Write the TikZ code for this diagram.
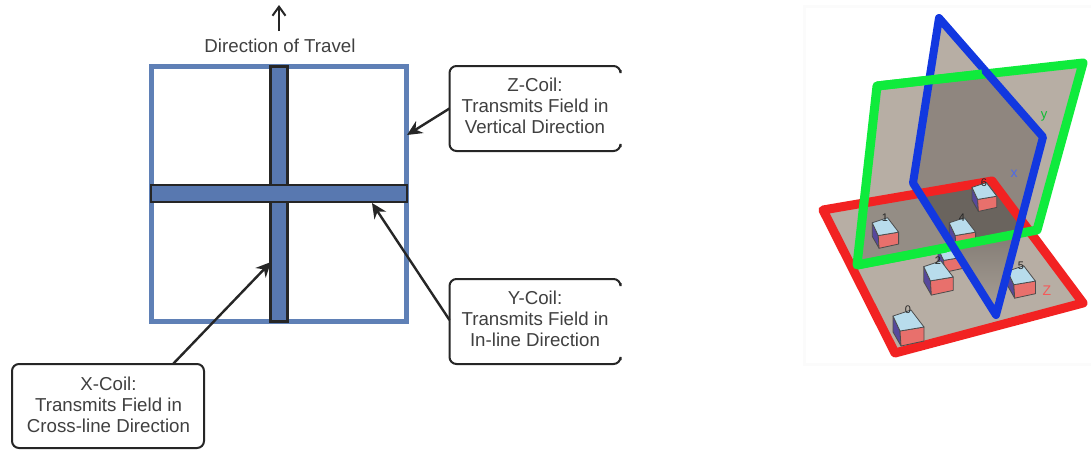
\documentclass[tikz,border=0pt]{standalone}
\usepackage{fontspec}
\setmainfont{Liberation Sans}
\usetikzlibrary{arrows.meta}
\definecolor{framecol}{HTML}{5F80B6}
\definecolor{barcol}{HTML}{5878B0}
\definecolor{inkcol}{HTML}{262626}
\definecolor{textcol}{HTML}{404040}
\definecolor{planelight}{HTML}{B7AEA4}
\definecolor{planemid}{HTML}{8F867F}
\definecolor{planedark}{HTML}{6A645E}
\definecolor{redplane}{HTML}{F22222}
\definecolor{greenplane}{HTML}{0FEB3C}
\definecolor{blueplane}{HTML}{1238E0}
\definecolor{cubetop}{HTML}{B8DCEC}
\definecolor{cubeleft}{HTML}{56489C}
\definecolor{cuberight}{HTML}{E8706C}
\tikzset{
  coiltext/.style={inner sep=0pt,outer sep=0pt,align=center,text=textcol,font=\fontsize{18.7}{21}\selectfont},
  coilbar/.style={draw=inkcol,fill=barcol,line width=2.2pt,inner sep=0pt,outer sep=0pt},
  boxline/.style={draw=inkcol,line width=2pt,rounded corners=7pt},
  coilarrow/.style={draw=inkcol,line width=2.4pt,-{Stealth[length=15pt,width=14pt]}},
  planeedge/.style={line width=9pt,line join=round,line cap=round},
  cubeedge/.style={draw=black!70,line width=.8pt,line join=round}
}
\newcommand{\labelcube}[4]{%
  \begin{scope}[shift={(#1,#2)},scale=#3]
    \filldraw[cubeedge,fill=cubeleft] (-15,-12) -- (-8,3) -- (-7,18) -- (-15,4) -- cycle;
    \filldraw[cubeedge,fill=cuberight] (-8,3) -- (16,-1) -- (16,13) -- (-7,18) -- cycle;
    \filldraw[cubeedge,fill=cubetop] (-15,-12) -- (3,-18) -- (16,-1) -- (-8,3) -- cycle;
    \node[inner sep=0pt,text=black!85,font=\fontsize{11}{11}\selectfont] (cube#4) at (0,-18) {#4};
  \end{scope}}
\begin{document}
\begin{tikzpicture}[x=1pt,y=-1pt]
\useasboundingbox (0,0) rectangle (1091,450);
\fill[white] (0,0) rectangle (1091,450);

% left schematic
\node[draw=framecol,line width=5pt,inner sep=0pt,outer sep=0pt,minimum width=255pt,minimum height=255pt] (frame) at (279,193.5) {};
\node[coilbar,minimum width=17pt,minimum height=255pt] (xcoil) at (279,194) {};
\node[coilbar,minimum width=256pt,minimum height=17pt] (ycoil) at (279,193.5) {};

\node[coiltext] (travel) at (280,46) {Direction of Travel};
\coordinate (traveltail) at (279,31);
\coordinate (traveltip) at (279,5);
\draw[draw=inkcol,line width=2pt,-{Straight Barb[length=9pt,width=13pt]}] (traveltail) -- (traveltip);

\node[minimum width=171pt,minimum height=85pt,inner sep=0pt,outer sep=0pt] (zbox) at (535,108.5) {};
\node[coiltext] (ztext) at (535,106) {Z-Coil:\\Transmits Field in\\Vertical Direction};
\draw[boxline] ([yshift=-4pt]zbox.north east) -- (zbox.north east) -- (zbox.north west) -- (zbox.south west) -- (zbox.south east) -- ([yshift=4pt]zbox.south east);

\node[minimum width=171pt,minimum height=85pt,inner sep=0pt,outer sep=0pt] (ybox) at (535,321.5) {};
\node[coiltext] (ytext) at (535,319) {Y-Coil:\\Transmits Field in\\In-line Direction};
\draw[boxline] ([yshift=-4pt]ybox.north east) -- (ybox.north east) -- (ybox.north west) -- (ybox.south west) -- (ybox.south east) -- ([yshift=4pt]ybox.south east);

\node[draw=inkcol,line width=2pt,rounded corners=7pt,minimum width=192pt,minimum height=84pt,inner sep=0pt,outer sep=0pt] (xbox) at (108,406) {};
\node[coiltext] (xtext) at (108.5,405) {X-Coil:\\Transmits Field in\\Cross-line Direction};

\coordinate (ztip) at (407,135);
\coordinate (ytip) at (372,203);
\coordinate (xtip) at (271,262);
\draw[coilarrow] (zbox.west) -- (ztip);
\draw[coilarrow] ([yshift=1.5pt]ybox.west) -- (ytip);
\draw[coilarrow] ([xshift=65pt]xbox.north) -- (xtip);

% right 3D view
\fill[black!1.5] (803,5) rectangle (1091,366);
\fill[white] (806,8) rectangle (1091,363);
\def\redquad{(823,210) -- (992,181) -- (1083,303) -- (895,353) -- cycle}
\def\greenquad{(877,86) -- (1083,63) -- (1037,230) -- (857,265) -- cycle}
\def\bluequad{(939,18) -- (1043,137) -- (996,315) -- (913,183) -- cycle}
\fill[planelight] \redquad;
\fill[planelight] \greenquad;
\fill[planelight] \bluequad;
\begin{scope}
  \clip \bluequad;
  \fill[planemid] \greenquad;
\end{scope}
\begin{scope}
  \clip \redquad;
  \fill[planelight!55!planedark] \greenquad;
  \begin{scope}
    \clip \bluequad;
    \shade[top color=planedark,bottom color=planelight!85!planedark] (900,180) rectangle (1050,320);
    \fill[planedark] \greenquad;
  \end{scope}
\end{scope}
\draw[planeedge,draw=redplane] \redquad;
\labelcube{908}{328}{1}{0}
\labelcube{885}{233}{.85}{1}
\labelcube{984}{197}{.8}{6}
\labelcube{962}{233}{.85}{4}
\labelcube{950}{258}{.8}{3}
\labelcube{938}{278}{.95}{2}
\labelcube{1021}{282}{.9}{5}
\draw[planeedge,draw=greenplane] \greenquad;
\draw[planeedge,draw=blueplane,line width=8pt] \bluequad;
\coordinate (gtl) at (877,86);
\coordinate (gtm) at (982,74);
\coordinate (gbl) at (857,265);
\coordinate (gbm) at (946,248);
\draw[planeedge,draw=greenplane,line cap=butt] (gtl) -- (gtm);
\draw[planeedge,draw=greenplane,line cap=butt] (gbl) -- (gbm);
\node[inner sep=0pt,text=greenplane!80!black,font=\fontsize{13}{13}\selectfont] (ylabel) at (1044,116) {y};
\node[inner sep=0pt,text=blueplane!75,font=\fontsize{14}{14}\selectfont] (xlabel) at (1014,174) {x};
\node[inner sep=0pt,text=redplane!75,font=\fontsize{14}{14}\selectfont] (zlabel) at (1047,291) {Z};
\end{tikzpicture}
\end{document}
